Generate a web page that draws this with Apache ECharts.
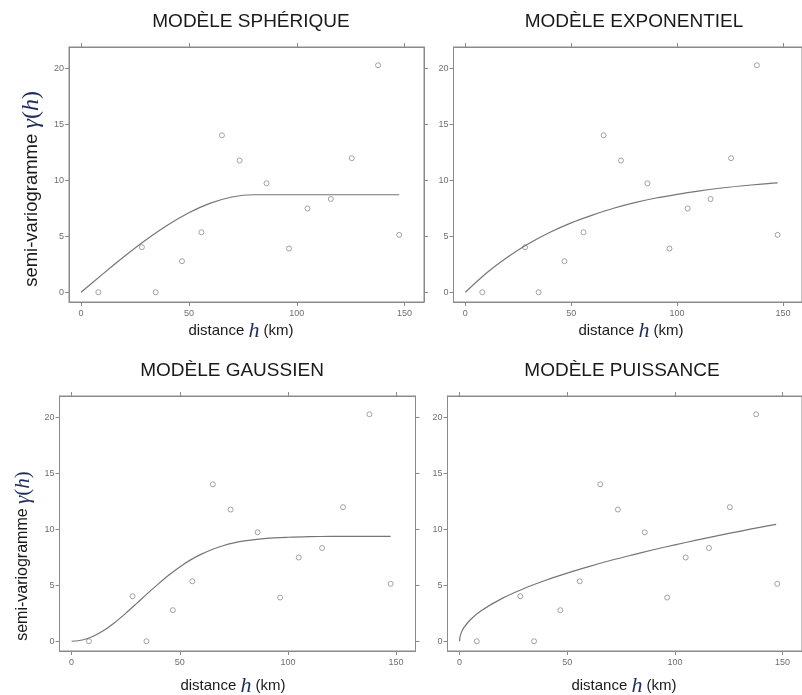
<!DOCTYPE html>
<html>
<head>
<meta charset="utf-8">
<script src="https://cdn.jsdelivr.net/npm/echarts@6/dist/echarts.min.js"></script>
<style>
  html, body { margin: 0; padding: 0; background: #fff; }
  #chart { width: 802px; height: 695px; }
</style>
</head>
<body>
<div id="chart"></div>
<script>
// Empirical semi-variogram points (distance in km, semi-variance)
const lagDistance = [8, 28.2, 34.6, 46.8, 55.8, 65.3, 73.5, 86, 96.4, 105, 115.8, 125.5, 137.7, 147.5];
const lagGamma    = [0, 4.02, 0, 2.77, 5.35, 14.0, 11.75, 9.72, 3.9, 7.47, 8.32, 11.96, 20.25, 5.12];

// Fitted model curves, read along distance
const spherH = [0, 10, 20, 30, 40, 50, 60, 70, 80, 90, 100, 110, 120, 130, 140, 147.5];
const spherG = [0, 1.62, 3.19, 4.66, 5.98, 7.09, 7.95, 8.5, 8.7, 8.7, 8.7, 8.7, 8.7, 8.7, 8.7, 8.7];

const expoH = [0, 10, 20, 30, 40, 50, 60, 70, 80, 90, 100, 110, 120, 130, 140, 147.5];
const expoG = [0, 1.72, 3.15, 4.35, 5.35, 6.19, 6.88, 7.49, 7.99, 8.41, 8.74, 9.03, 9.28, 9.48, 9.65, 9.75];

const gaussH = [0, 5, 10, 15, 20, 25, 30, 35, 40, 45, 50, 55, 60, 65, 70, 75, 80, 90, 100, 110, 120, 130, 140, 147.5];
const gaussG = [0, 0.11, 0.45, 0.98, 1.68, 2.49, 3.36, 4.25, 5.1, 5.91, 6.63, 7.26, 7.77, 8.19, 8.52, 8.77, 8.95, 9.18, 9.28, 9.33, 9.35, 9.35, 9.35, 9.35];

const powH = [0, 0.2, 1, 2, 5, 10, 20, 30, 40, 50, 60, 70, 80, 90, 100, 110, 120, 130, 140, 147];
const powG = [0, 0.38, 0.86, 1.22, 1.92, 2.72, 3.85, 4.71, 5.44, 6.08, 6.66, 7.2, 7.69, 8.16, 8.6, 9.02, 9.42, 9.81, 10.18, 10.43];

// Axis ticks
const xTicks = [0, 50, 100, 150];
const yTicks = [0, 5, 10, 15, 20];

const titles = ['MODÈLE SPHÉRIQUE', 'MODÈLE EXPONENTIEL', 'MODÈLE GAUSSIEN', 'MODÈLE PUISSANCE'];
const curvesH = [spherH, expoH, gaussH, powH];
const curvesG = [spherG, expoG, gaussG, powG];

const pair = (a, b) => a.map((v, i) => [v, b[i]]);

// Panel layout
const panels = [
  { left: 69,    top: 47,  width: 355, height: 255, titleX: 251, titleY: 22,  nameX: 241, nameY: 331, yName: { x: 32, y: 189, size: 18.5, mSize: 24 } },
  { left: 453.5, top: 47,  width: 355, height: 255, titleX: 634, titleY: 22,  nameX: 631, nameY: 331 },
  { left: 59.5,  top: 396, width: 356, height: 255, titleX: 232, titleY: 371, nameX: 233, nameY: 686, yName: { x: 23, y: 556, size: 16, mSize: 21 } },
  { left: 447.5, top: 396, width: 356, height: 255, titleX: 622, titleY: 371, nameX: 624, nameY: 686 }
];

const AXIS = '#8a8a8a';
const LABEL = '#6e6e6e';
const MATH = '"Liberation Serif", "Times New Roman", serif';
const SANS = '"Liberation Sans", Arial, sans-serif';
const MATH_COLOR = '#1f2d5c';
const X_MIN = -5.6, X_MAX = 159;
const Y_MIN = -0.87, Y_MAX = 21.88;

const grid = [], xAxis = [], yAxis = [], series = [], graphic = [];

panels.forEach((p, i) => {
  grid.push({
    left: p.left, top: p.top, width: p.width, height: p.height,
    show: true, borderColor: AXIS, borderWidth: 1, backgroundColor: 'transparent'
  });
  const tickStyle = { show: true, inside: false, length: 4, lineStyle: { color: AXIS, width: 1 } };
  const lblStyle = { color: LABEL, fontSize: 9, fontFamily: SANS };
  // bottom axis with labels
  xAxis.push({
    type: 'value', gridIndex: i, position: 'bottom', min: X_MIN, max: X_MAX,
    axisLine: { show: true, onZero: false, lineStyle: { color: AXIS } },
    axisTick: Object.assign({ customValues: xTicks }, tickStyle),
    axisLabel: Object.assign({ customValues: xTicks, margin: 7 }, lblStyle),
    splitLine: { show: false }
  });
  // top axis, ticks only
  xAxis.push({
    type: 'value', gridIndex: i, position: 'top', min: X_MIN, max: X_MAX,
    axisLine: { show: true, onZero: false, lineStyle: { color: AXIS } },
    axisTick: Object.assign({ customValues: xTicks }, tickStyle),
    axisLabel: { show: false },
    splitLine: { show: false }
  });
  // left axis with labels
  yAxis.push({
    type: 'value', gridIndex: i, position: 'left', min: Y_MIN, max: Y_MAX,
    axisLine: { show: true, onZero: false, lineStyle: { color: AXIS } },
    axisTick: Object.assign({ customValues: yTicks }, tickStyle),
    axisLabel: Object.assign({ customValues: yTicks, margin: 5 }, lblStyle),
    splitLine: { show: false }
  });
  // right axis, ticks only
  yAxis.push({
    type: 'value', gridIndex: i, position: 'right', min: Y_MIN, max: Y_MAX,
    axisLine: { show: true, onZero: false, lineStyle: { color: AXIS } },
    axisTick: Object.assign({ customValues: yTicks }, tickStyle),
    axisLabel: { show: false },
    splitLine: { show: false }
  });

  series.push({
    type: 'line', xAxisIndex: 2 * i, yAxisIndex: 2 * i,
    data: pair(curvesH[i], curvesG[i]),
    smooth: 0.3, showSymbol: false, silent: true,
    lineStyle: { color: '#767676', width: 1.2 }
  });
  series.push({
    type: 'scatter', xAxisIndex: 2 * i, yAxisIndex: 2 * i,
    data: pair(lagDistance, lagGamma),
    symbol: 'circle', symbolSize: 5,
    itemStyle: { color: '#fff', borderColor: '#8c8c8c', borderWidth: 1 }
  });

  graphic.push({
    type: 'text', x: p.titleX, y: p.titleY,
    style: {
      text: titles[i], align: 'center', verticalAlign: 'middle',
      font: '19px ' + SANS, fill: '#1a1a1a'
    }
  });
  graphic.push({
    type: 'text', x: p.nameX, y: p.nameY,
    style: {
      text: '{a|distance }{m|h}{a| (km)}', align: 'center', verticalAlign: 'middle',
      rich: {
        a: { fontSize: 15, fontFamily: SANS, fill: '#1a1a1a', color: '#1a1a1a' },
        m: { fontSize: 22, fontFamily: MATH, fontStyle: 'italic', fill: MATH_COLOR, color: MATH_COLOR }
      }
    }
  });
  if (p.yName) {
    graphic.push({
      type: 'text', x: p.yName.x, y: p.yName.y, rotation: Math.PI / 2,
      style: {
        text: '{a|semi-variogramme }{m|γ}{p|(}{m|h}{p|)}', align: 'center', verticalAlign: 'middle',
        rich: {
          a: { fontSize: p.yName.size, fontFamily: SANS, fill: '#1a1a1a', color: '#1a1a1a' },
          m: { fontSize: p.yName.mSize, fontFamily: MATH, fontStyle: 'italic', fill: MATH_COLOR, color: MATH_COLOR },
          p: { fontSize: p.yName.mSize, fontFamily: MATH, fill: MATH_COLOR, color: MATH_COLOR }
        }
      }
    });
  }
});

const chart = echarts.init(document.getElementById('chart'), null, { renderer: 'canvas' });
chart.setOption({
  backgroundColor: '#fff',
  animation: false,
  grid, xAxis, yAxis, series, graphic
});
</script>
</body>
</html>
